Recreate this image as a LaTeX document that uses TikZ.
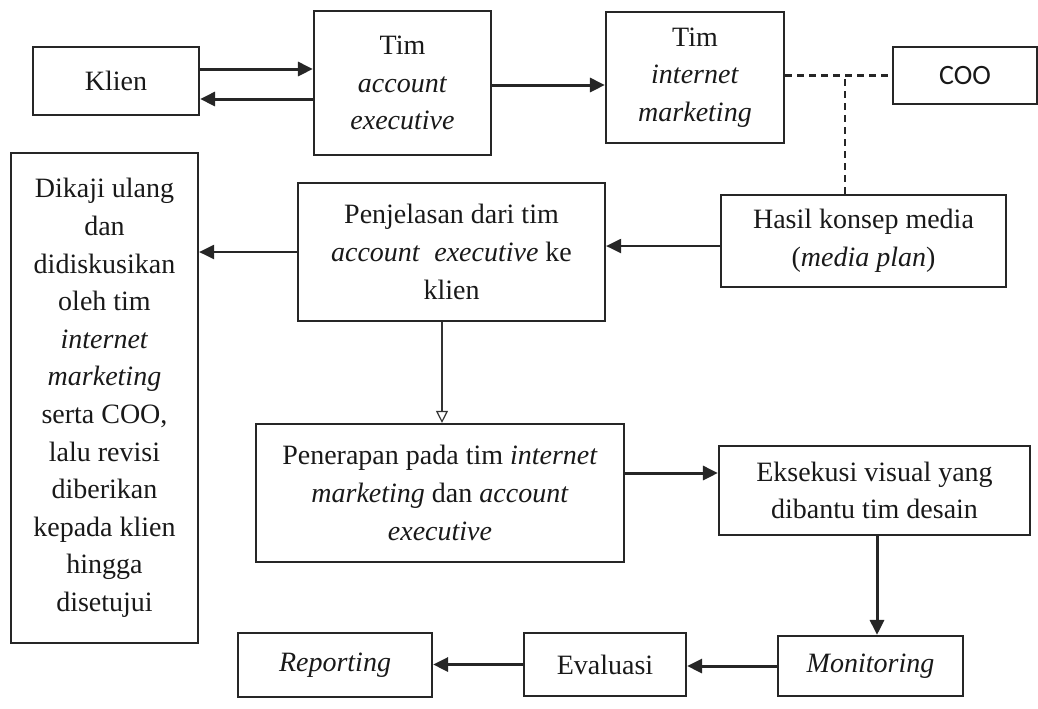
\documentclass[tikz,border=0pt]{standalone}
\usepackage{fontspec}
\setmainfont{Liberation Serif}
\newfontfamily\calibrifont{Carlito}
\usetikzlibrary{arrows.meta}

\begin{document}
\begin{tikzpicture}[x=0.5pt,y=-0.5pt]
\useasboundingbox (0,0) rectangle (1038,708);
\begin{scope}[every node/.style={rectangle,draw=black!85,line width=1.1pt,align=center,
              inner sep=0pt,text=black!90,font=\fontsize{14}{18.8}\selectfont}]
    \node[minimum width=83pt,minimum height=34pt] (klien) at (116,81) {Klien};
    \node[minimum width=88.5pt,minimum height=72pt] (timae) at (402.5,83)
        {Tim\\ \textit{account}\\ \textit{executive}};
    \node[minimum width=89pt,minimum height=65.5pt] (timim) at (695,77.5)
        {Tim\\ \textit{internet}\\ \textit{marketing}};
    \node[minimum width=72pt,minimum height=28.5pt,font=\calibrifont\fontsize{14}{18.8}\selectfont]
        (coo) at (965,75.5) {COO};
    \node[minimum width=93.5pt,minimum height=245pt] (dikaji) at (104.5,398)
        {Dikaji ulang\\ dan\\ didiskusikan\\ oleh tim\\ \textit{internet}\\ \textit{marketing}\\
         serta COO,\\ lalu revisi\\ diberikan\\ kepada klien\\ hingga\\ disetujui};
    \node[minimum width=153.5pt,minimum height=69pt] (penjelasan) at (451.5,252)
        {Penjelasan dari tim\\ \textit{account}~ \textit{executive} ke\\ klien};
    \node[minimum width=142.5pt,minimum height=46pt] (hasil) at (863.5,241)
        {Hasil konsep media\\ (\textit{media plan})};
    \node[minimum width=184pt,minimum height=69pt] (penerapan) at (440,493)
        {Penerapan pada tim \textit{internet}\\ \textit{marketing} dan \textit{account}\\ \textit{executive}};
    \node[minimum width=155.5pt,minimum height=44.5pt] (eksekusi) at (874.5,490.5)
        {Eksekusi visual yang\\ dibantu tim desain};
    \node[minimum width=97pt,minimum height=32pt] (reporting) at (335,665) {\textit{Reporting}};
    \node[minimum width=81pt,minimum height=31.5pt] (evaluasi) at (605,664.5) {Evaluasi};
    \node[minimum width=92.5pt,minimum height=30pt] (monitoring) at (870.5,666) {\textit{Monitoring}};
\end{scope}
\begin{scope}[>={Triangle[length=7.5pt,width=7pt]},
              heavy_edge/.style={draw=black!85,line width=1.5pt},
              plain_edge/.style={draw=black!85,line width=1.1pt},
              thin_edge/.style={draw=black!80,line width=0.6pt,
                  >={Triangle[open,length=6pt,width=6pt]}},
              dash_edge/.style={draw=black!85,line width=1.1pt,dash pattern=on 3.5pt off 2.5pt}]
    \path [->] ([yshift=6pt]klien.east) edge [heavy_edge] ([yshift=6pt]klien.east -| timae.west);
    \path [->] ([yshift=-9pt]klien.east -| timae.west) edge [heavy_edge] ([yshift=-9pt]klien.east);
    \path [->] ([yshift=-1pt]timae.east) edge [heavy_edge] ([yshift=-1pt]timae.east -| timim.west);
    \path (timim.east |- coo.west) edge [dash_edge] (coo.west);
    \path ([xshift=-9.25pt]hasil.north) edge [dash_edge] ([xshift=-9.25pt]hasil.north |- coo.west);
    \path [->] ([yshift=-2.5pt]hasil.west) edge [plain_edge] ([yshift=-2.5pt]hasil.west -| penjelasan.east);
    \path [->] (penjelasan.west) edge [plain_edge] (penjelasan.west -| dikaji.east);
    \path [->] ([xshift=-4.75pt]penjelasan.south) edge [thin_edge]
        ([xshift=-4.75pt]penjelasan.south |- penerapan.north);
    \path [->] ([yshift=10pt]penerapan.east) edge [heavy_edge] ([yshift=10pt]penerapan.east -| eksekusi.west);
    \path [->] ([xshift=1.25pt]eksekusi.south) edge [heavy_edge] ([xshift=1.25pt]eksekusi.south |- monitoring.north);
    \path [->] (monitoring.west) edge [heavy_edge] (monitoring.west -| evaluasi.east);
    \path [->] (evaluasi.west) edge [heavy_edge] (evaluasi.west -| reporting.east);
\end{scope}
\end{tikzpicture}
\end{document}
